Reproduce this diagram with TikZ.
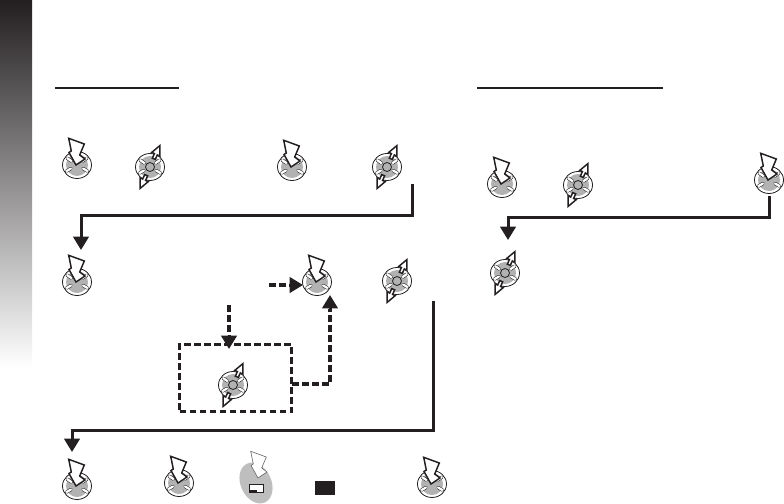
\documentclass[tikz,border=0pt]{standalone}
\usetikzlibrary{positioning,arrows.meta,shapes.geometric}
\definecolor{mminkdark}{RGB}{35,31,32}
\definecolor{mmpad}{RGB}{178,178,178}
\definecolor{mmoval}{RGB}{190,190,190}
\tikzset{
  flowline/.style={draw=mminkdark,line width=2.25pt,-{Triangle[length=10pt,width=11.5pt]}},
  dashbox/.style={draw=mminkdark,line width=2.1pt,dash pattern=on 5pt off 2.5pt},
  dashline/.style={draw=mminkdark,line width=3pt,dash pattern=on 5pt off 2.5pt},
  headline/.style={draw=mminkdark,line width=1.5pt},
  padring/.style={draw=mminkdark,fill=white,line width=0.6pt},
  padface/.style={fill=mmpad},
  padpetal/.style={draw=mminkdark,double=white,double distance=1.7pt,line width=0.4pt,line cap=round},
  arrowpoly/.style={draw=mminkdark,fill=white,line width=1.1pt,line join=miter},
  tiltaxes/.style={x={(0.683pt,-0.315pt)},y={(0.315pt,0.683pt)}},
}
\newcommand{\lpad}[2]{%
  \begin{scope}[shift={(#1,#2)}]
    \draw[padring] (0,0) circle [x radius=14.5,y radius=13.5];
    \fill[padface] (0,0) circle [radius=11];
    \foreach \a in {30,150,215,325}{%
      \draw[padpetal] (\a:7) -- (\a:12);}
  \end{scope}%
}
\newcommand{\lpressarrow}[3][arrowpoly]{%
  \draw[#1,shift={(#2,#3)}] (-8.3,-26.7) -- (7.3,-21) -- (2.7,-10) -- (8,-6) -- (-1,0)
    -- (-8,-12.5) -- (-5.7,-14) -- cycle;%
}
\newcommand{\lpress}[3]{%
  \coordinate (#1) at (#2,#3);
  \lpad{#2}{#3}\lpressarrow{#2}{#3}%
}
\newcommand{\ltilt}[3]{%
  \coordinate (#1) at (#2,#3);
  \lpad{#2}{#3}
  \draw[padring,fill=mmpad] (#2,#3) circle [radius=4.5];
  \begin{scope}[shift={(#2,#3)},tiltaxes]
    \foreach \s in {1,-1}{%
      \draw[arrowpoly] (-1.6,9*\s) -- (-1.6,14*\s) -- (-4.5,14*\s) -- (0,23.5*\s)
        -- (4.5,14*\s) -- (1.6,14*\s) -- (1.6,9*\s) -- cycle;}
  \end{scope}%
}
\begin{document}
\begin{tikzpicture}[x=0.75pt,y=-0.75pt]
        \useasboundingbox (0,0) rectangle (784,503);
        \shade[top color=mminkdark,bottom color=white] (0,0) rectangle (32,368);
        \draw[headline] (55,88) -- (179,88);
        \draw[headline] (477,88) -- (663,88);
        \lpress{pressA}{77}{165}\ltilt{tiltA}{150}{167}
        \lpress{pressB}{292}{167}\ltilt{tiltB}{387}{167}
        \lpress{pressC}{77}{282}
        \lpress{pressD}{317}{282}\ltilt{tiltD}{397}{281}
        \ltilt{tiltE}{233}{385}
        \lpress{pressF}{77}{486}\lpress{pressG}{179}{483}\lpress{pressH}{432}{484}
        \lpress{pressJ}{502}{184}\ltilt{tiltJ}{578}{185}\lpress{pressK}{769}{180}
        \ltilt{tiltL}{505}{273}
        \node[ellipse,fill=mmoval,minimum width=23pt,minimum height=32pt,inner sep=0pt,rotate=25] (okoval) at (256,483) {};
        \node[draw=mminkdark,fill=white,line width=0.9pt,minimum width=11pt,minimum height=6.5pt,inner sep=0pt] (oklamp) at (256.5,488.5) {};
        \fill[mminkdark] (oklamp.south west) rectangle ([yshift=2.6pt]oklamp.south);
        \lpressarrow[draw=mminkdark!70,fill=white,line width=0.45pt]{259}{478}
        \node[fill=mminkdark,minimum width=15pt,minimum height=10.5pt,inner sep=0pt] (setkey) at (325,488) {};
        \node[dashbox,minimum width=84pt,minimum height=50.5pt,inner sep=0pt] (setbox) at (235.5,378) {};
        \coordinate (startA) at (412,184);
        \coordinate (bendA) at (412,215);
        \coordinate (bendB) at (81,215);
        \coordinate (tipA) at (81,250);
        \coordinate (startB) at (433,301);
        \coordinate (bendC) at (433,430);
        \coordinate (bendD) at (72,430);
        \coordinate (tipB) at (72,452);
        \coordinate (startC) at (769,196);
        \coordinate (bendE) at (769,217);
        \coordinate (bendF) at (508,217);
        \coordinate (tipC) at (508,240);
        \coordinate (startD) at (269,285);
        \coordinate (headD) at (289,285);
        \coordinate (tipD) at (303,285);
        \coordinate (startE) at (229,305);
        \coordinate (headE) at (229,335);
        \coordinate (tipE) at (229,349);
        \coordinate (startF) at (292,384);
        \coordinate (bendG) at (330,384);
        \coordinate (headF) at (330,309);
        \coordinate (tipF) at (330,295);
        \draw[flowline] (startA) -- (bendA) -- (bendB) -- (tipA);
        \draw[flowline] (startB) -- (bendC) -- (bendD) -- (tipB);
        \draw[flowline] (startC) -- (bendE) -- (bendF) -- (tipC);
        \draw[dashline] (startD) -- (headD);
        \draw[flowline] (headD) -- (tipD);
        \draw[dashline] (startE) -- (headE);
        \draw[flowline] (headE) -- (tipE);
        \draw[dashline] (startF) -- (bendG) -- (headF);
        \draw[flowline] (headF) -- (tipF);
      \end{tikzpicture}
\end{document}
